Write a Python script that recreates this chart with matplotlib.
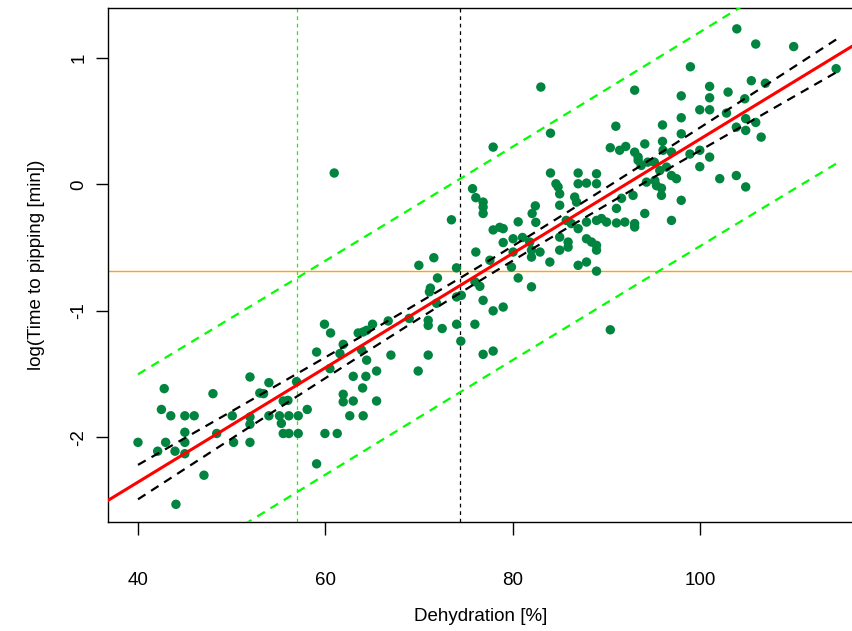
import numpy as np
import matplotlib
matplotlib.use("Agg")
import matplotlib.pyplot as plt

# --- data ---
dehydration = [
    # left cluster
    40.0, 42.1, 42.5, 42.8, 42.95, 43.5, 43.95, 44.05, 45.0, 45.0, 45.0, 45.0, 46.0, 47.04,
    48.0, 48.4, 50.06, 50.2, 51.95, 51.95, 51.95, 51.95, 53.0, 53.4, 53.97, 53.97, 55.1,
    55.3, 55.5, 55.5, 56.0, 56.1, 56.1, 56.92, 57.1, 57.1, 58.06, 59.06, 59.06, 59.95,
    # middle
    59.9, 60.48, 60.55, 60.94, 61.26, 61.55, 61.9, 61.9, 61.9, 62.6, 62.97, 62.97, 63.5,
    63.86, 63.97, 64.03, 64.03, 64.32, 64.4, 64.4, 65.03, 65.46, 65.46, 66.7, 66.99, 68.94,
    69.9, 69.97, 70.97, 70.97, 70.97, 71.1, 71.2, 71.57, 71.86, 71.96, 72.46, 73.45, 73.99,
    74.0, 74.0, 74.45, 74.5, 75.7, 75.95, 75.95, 76.05, 76.05, 76.48, 76.83, 76.83, 76.83,
    76.83, 76.83, 77.55, 77.9, 77.9, 77.9, 77.9, 78.6, 78.97, 78.97, 78.97,
    # right-middle
    79.85, 80.03, 80.03, 80.57, 80.57, 81.03, 81.8, 81.99, 81.99, 81.99, 82.06, 82.4, 82.45,
    82.9, 82.99, 83.95, 84.02, 84.02, 84.6, 84.83, 85.0, 85.0, 85.0, 85.0, 85.7, 85.9, 85.9,
    86.24, 86.6, 86.8, 86.97, 86.97, 86.97, 86.97, 87.86, 87.86, 87.86, 87.86, 88.4, 88.93,
    88.93, 88.93, 88.93, 88.93, 88.93, 89.46, 90.0, 90.4, 90.4, 90.99, 91.06, 91.06, 91.4,
    91.6, 91.95, 92.05, 92.83, 93.0, 93.0, 93.0, 93.0, 93.37, 93.37, 93.7, 94.08, 94.08,
    94.26, 94.4, 95.1, 95.15, 95.33, 95.68, 95.86, 95.86, 95.97, 95.97, 96.03, 96.4, 96.93,
    96.93, 96.93, 97.46, 97.97, 97.97, 97.97, 97.97, 98.9, 98.95, 99.95, 99.95, 99.95,
    101.0, 101.0, 101.0, 101.0, 102.08, 102.8, 102.97, 103.85, 103.85, 103.9, 104.75,
    104.85, 104.85, 104.85, 105.45, 105.92, 105.92, 106.5, 106.95, 109.97, 114.5,
]
log_time = [
    -2.04, -2.11, -1.78, -1.615, -2.04, -1.83, -2.11, -2.53, -1.83, -1.96, -2.04, -2.13, -1.83, -2.30,
    -1.655, -1.97, -1.83, -2.04, -1.523, -1.84, -1.897, -2.04, -1.65, -1.655, -1.568, -1.83, -1.83,
    -1.89, -1.713, -1.97, -1.708, -1.83, -1.97, -1.56, -1.83, -1.97, -1.78, -1.326, -2.21, -1.97,
    -1.106, -1.457, -1.175, 0.09, -1.97, -1.338, -1.265, -1.66, -1.72, -1.83, -1.518, -1.713, -1.175,
    -1.31, -1.61, -1.167, -1.83, -1.518, -1.154, -1.39, -1.106, -1.476, -1.713, -1.08, -1.35, -1.06,
    -1.476, -0.64, -1.075, -1.115, -1.35, -0.85, -0.82, -0.58, -0.94, -0.74, -1.14, -0.28, -0.66,
    -0.89, -1.106, -1.24, -0.877, -0.034, -1.106, -0.77, -0.535, -0.105, -0.806, -0.14, -0.18, -0.23,
    -0.917, -1.344, -0.60, 0.295, -0.36, -1.0, -1.318, -0.34, -0.35, -0.46, -0.97,
    -0.654, -0.43, -0.535, -0.296, -0.74, -0.42, -0.456, -0.52, -0.575, -0.81, -0.23, -0.17, -0.30,
    -0.535, 0.77, -0.614, 0.405, 0.09, 0.005, -0.02, -0.075, -0.165, -0.417, -0.52, -0.285, -0.456, -0.496,
    -0.31, -0.1, -0.14, 0.09, 0.005, -0.35, -0.64, 0.01, -0.298, -0.43, -0.614, -0.456, 0.084,
    0.005, -0.285, -0.482, -0.52, -0.686, -0.27, -0.298, 0.29, -1.15, 0.46, -0.19, -0.305, 0.27,
    -0.11, -0.298, 0.30, -0.087, 0.745, 0.255, -0.31, -0.337, 0.216, 0.19, 0.15, 0.32, -0.23,
    0.018, 0.176, 0.176, 0.03, -0.01, 0.11, -0.03, -0.087, 0.47, 0.34, 0.27, 0.137, 0.255,
    0.07, -0.285, 0.045, 0.70, 0.527, 0.40, -0.126, 0.24, 0.93, 0.59, 0.27, 0.14,
    0.685, 0.775, 0.59, 0.216, 0.045, 0.564, 0.73, 0.453, 0.07, 1.23, 0.677,
    0.427, -0.02, 0.52, 0.82, 1.11, 0.49, 0.374, 0.80, 1.09, 0.915,
]
threshold = -0.688        # horizontal reference line
x_fit_cross = 74.35       # vertical black line
x_pred_cross = 56.92      # vertical green line
residual_sd = 0.427
t_crit = 1.971

x = np.array(dehydration)
y = np.array(log_time)
n = len(x)

# linear fit with confidence and prediction bands
slope, intercept = np.polyfit(x, y, 1)
sxx = np.sum((x - x.mean()) ** 2)
xs = np.linspace(x.min(), x.max(), 200)
fit = intercept + slope * xs
se_conf = residual_sd * np.sqrt(1 / n + (xs - x.mean()) ** 2 / sxx)
se_pred = residual_sd * np.sqrt(1 + 1 / n + (xs - x.mean()) ** 2 / sxx)

plt.rcParams['font.family'] = ['Liberation Sans', 'DejaVu Sans']

fig = plt.figure(figsize=(8.53, 6.31), dpi=100)
ax = fig.add_axes([108 / 853, 1 - 522 / 631, (853 - 108) / 853, (522 - 8) / 631])

ax.scatter(x, y, s=46, color='#00843F', edgecolors='none', zorder=3)

xl = np.array([30, 125])
ax.plot(xl, intercept + slope * xl, color='red', lw=2.2, zorder=4)
ax.plot(xs, fit + t_crit * se_conf, color='black', lw=1.6, dashes=(4, 3), zorder=4)
ax.plot(xs, fit - t_crit * se_conf, color='black', lw=1.6, dashes=(4, 3), zorder=4)
ax.plot(xs, fit + t_crit * se_pred, color='#00FF00', lw=1.6, dashes=(4, 3), zorder=4)
ax.plot(xs, fit - t_crit * se_pred, color='#00FF00', lw=1.6, dashes=(4, 3), zorder=4)

ax.axhline(threshold, color='#FFA500', lw=1, zorder=2)
ax.axvline(x_fit_cross, color='black', lw=0.9, dashes=(3, 3), zorder=2)
ax.axvline(x_pred_cross, color='#00FF00', lw=0.9, dashes=(3, 3), zorder=2)

ax.set_xlim(36.8, 116.3)
ax.set_ylim(-2.67, 1.395)
ax.spines['right'].set_visible(False)
for sp in ax.spines.values():
    sp.set_linewidth(1)

ax.set_xticks([40, 60, 80, 100])
ax.set_yticks([-2, -1, 0, 1])
ax.set_yticklabels(['-2', '-1', '0', '1'], rotation=90, va='center')
ax.tick_params(direction='out', length=9, width=1, labelsize=13.5)
ax.tick_params(axis='x', pad=27)
ax.tick_params(axis='y', pad=6)

ax.set_xlabel('Dehydration [%]', fontsize=13.5, labelpad=14)
ax.set_ylabel('log(Time to pipping [min])', fontsize=13.5, labelpad=18)

fig.savefig('out.png', dpi=100)
